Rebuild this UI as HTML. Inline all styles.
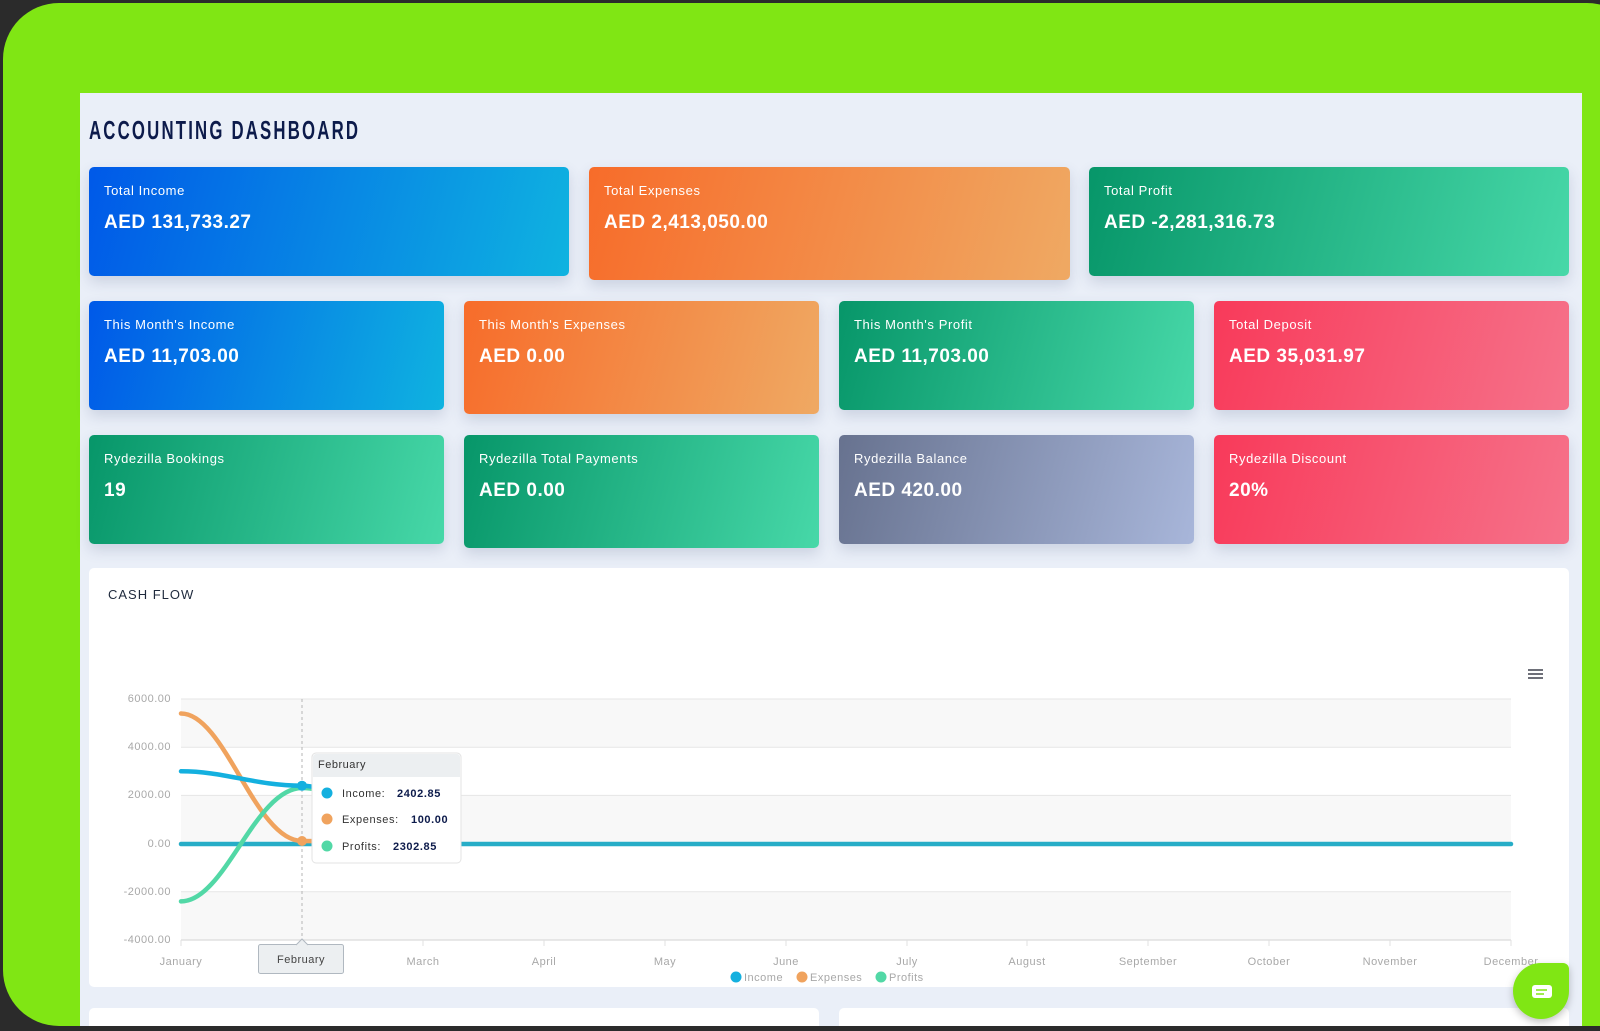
<!DOCTYPE html>
<html style="overflow:hidden"><head><meta charset="utf-8"><style>
*{margin:0;padding:0;box-sizing:border-box}
html,body{width:1600px;height:1031px;overflow:hidden}
body{background:#2b2b2b;font-family:"Liberation Sans",sans-serif}
#w{position:relative;width:1600px;height:1031px;overflow:hidden}
.green{position:absolute;left:3px;top:3px;width:1640px;height:1023px;background:#80e614;border-radius:56px 56px 0 56px}
.content{position:absolute;left:80px;top:93px;width:1502px;height:933px;background:#eaeff8}
.bottom{position:absolute;left:0;top:1026px;width:1600px;height:5px;background:#2b2b2b}
h1{position:absolute;left:89px;top:115px;font-size:26px;font-weight:bold;color:#0d1b4b;letter-spacing:3.4px;transform:scaleX(.645);transform-origin:left top;white-space:nowrap}
.card{position:absolute;border-radius:5px;color:#fff;box-shadow:0 6px 14px rgba(60,80,120,.18)}
.card .l{position:absolute;left:15px;top:16px;font-size:13px;letter-spacing:.6px}
.card .v{position:absolute;left:15px;top:45px;font-size:19px;font-weight:bold;letter-spacing:.5px}
.blue{background:linear-gradient(105deg,#0059e8,#0fb3e0)}
.orange{background:linear-gradient(105deg,#f76c2a,#efa963)}
.teal{background:linear-gradient(105deg,#079669,#47d8a8)}
.red{background:linear-gradient(105deg,#f83a5a,#f6728a)}
.gray{background:linear-gradient(105deg,#67728f,#a8b6da)}
.chart{position:absolute;left:89px;top:568px;width:1480px;height:419px;background:#fff;border-radius:5px}
.wc{position:absolute;top:1008px;height:30px;background:#fff;border-radius:5px}
</style></head><body><div id="w">
<div class="green"></div>
<div class="content"></div>
<h1>ACCOUNTING DASHBOARD</h1>

<div class="card blue" style="left:89px;top:167px;width:480px;height:109px"><div class="l">Total Income</div><div class="v">AED 131,733.27</div></div>
<div class="card orange" style="left:589px;top:167px;width:481px;height:113px"><div class="l">Total Expenses</div><div class="v">AED 2,413,050.00</div></div>
<div class="card teal" style="left:1089px;top:167px;width:480px;height:109px"><div class="l">Total Profit</div><div class="v">AED -2,281,316.73</div></div>

<div class="card blue" style="left:89px;top:301px;width:355px;height:109px"><div class="l">This Month's Income</div><div class="v">AED 11,703.00</div></div>
<div class="card orange" style="left:464px;top:301px;width:355px;height:113px"><div class="l">This Month's Expenses</div><div class="v">AED 0.00</div></div>
<div class="card teal" style="left:839px;top:301px;width:355px;height:109px"><div class="l">This Month's Profit</div><div class="v">AED 11,703.00</div></div>
<div class="card red" style="left:1214px;top:301px;width:355px;height:109px"><div class="l">Total Deposit</div><div class="v">AED 35,031.97</div></div>

<div class="card teal" style="left:89px;top:435px;width:355px;height:109px"><div class="l">Rydezilla Bookings</div><div class="v">19</div></div>
<div class="card teal" style="left:464px;top:435px;width:355px;height:113px"><div class="l">Rydezilla Total Payments</div><div class="v">AED 0.00</div></div>
<div class="card gray" style="left:839px;top:435px;width:355px;height:109px"><div class="l">Rydezilla Balance</div><div class="v">AED 420.00</div></div>
<div class="card red" style="left:1214px;top:435px;width:355px;height:109px"><div class="l">Rydezilla Discount</div><div class="v">20%</div></div>

<div class="chart"></div>
<div class="wc" style="left:89px;width:730px"></div>
<div class="wc" style="left:839px;width:730px"></div>

<svg style="position:absolute;left:0;top:0" width="1600" height="1031" font-family="Liberation Sans, sans-serif">
<text x="108" y="599" font-size="13" fill="#1f2a3d" letter-spacing="1">CASH FLOW</text>
<g stroke="#6e7079" stroke-width="2"><line x1="1528" y1="670" x2="1543" y2="670"/><line x1="1528" y1="674" x2="1543" y2="674"/><line x1="1528" y1="678" x2="1543" y2="678"/></g>
<rect x="181" y="699" width="1330" height="48.2" fill="#f8f8f8"/>
<rect x="181" y="795.4" width="1330" height="48.2" fill="#f8f8f8"/>
<rect x="181" y="891.8" width="1330" height="48.2" fill="#f8f8f8"/>
<g stroke="#e6e6e6" stroke-width="1">
<line x1="181" y1="699" x2="1511" y2="699"/><line x1="181" y1="747.2" x2="1511" y2="747.2"/><line x1="181" y1="795.4" x2="1511" y2="795.4"/><line x1="181" y1="843.6" x2="1511" y2="843.6"/><line x1="181" y1="891.8" x2="1511" y2="891.8"/></g>
<line x1="181" y1="940" x2="1511" y2="940" stroke="#e0e0e0" stroke-width="1.5"/>
<g stroke="#e0e0e0"><line x1="181" y1="940" x2="181" y2="946"/><line x1="423" y1="940" x2="423" y2="946"/><line x1="544" y1="940" x2="544" y2="946"/><line x1="665" y1="940" x2="665" y2="946"/><line x1="786" y1="940" x2="786" y2="946"/><line x1="907" y1="940" x2="907" y2="946"/><line x1="1027" y1="940" x2="1027" y2="946"/><line x1="1148" y1="940" x2="1148" y2="946"/><line x1="1269" y1="940" x2="1269" y2="946"/><line x1="1390" y1="940" x2="1390" y2="946"/><line x1="1511" y1="940" x2="1511" y2="946"/></g>
<g font-size="11" fill="#a8a8a8" text-anchor="end" letter-spacing=".5">
<text x="171" y="702">6000.00</text><text x="171" y="750">4000.00</text><text x="171" y="798">2000.00</text><text x="171" y="847">0.00</text><text x="171" y="895">-2000.00</text><text x="171" y="943">-4000.00</text></g>
<g font-size="11" fill="#a8a8a8" text-anchor="middle" letter-spacing=".5">
<text x="181" y="965">January</text><text x="423" y="965">March</text><text x="544" y="965">April</text><text x="665" y="965">May</text><text x="786" y="965">June</text><text x="907" y="965">July</text><text x="1027" y="965">August</text><text x="1148" y="965">September</text><text x="1269" y="965">October</text><text x="1390" y="965">November</text><text x="1511" y="965">December</text></g>
<line x1="302" y1="699" x2="302" y2="940" stroke="#b6b6b6" stroke-dasharray="3,3"/>
<g fill="none" stroke-width="4.5" stroke-linecap="round">
<path d="M181,844 L1511,844" stroke="#27adc7"/>
<path d="M181,713.5 C225,713.5 255,841 302,841 C350,841 380,844 423,844" stroke="#f0a35e"/>
<path d="M181,901.4 C225,901.4 255,788 302,788 C350,788 380,844 423,844" stroke="#52d8a6"/>
<path d="M181,771.3 C225,771.3 255,785.7 302,785.7 C350,785.7 380,844 423,844" stroke="#14b0df"/>
</g>
<circle cx="302" cy="785.7" r="5" fill="#14b0df"/><circle cx="302" cy="841" r="5" fill="#f0a35e"/>
<rect x="312" y="753" width="149" height="110" rx="4" fill="#fff" stroke="#e3e3e3"/>
<path d="M313,757 a3,3 0 0 1 3,-3 h141 a3,3 0 0 1 3,3 v20 h-147z" fill="#eceff1"/>
<text x="318" y="768" font-size="11" fill="#333" letter-spacing=".5">February</text>
<circle cx="327" cy="793" r="5.5" fill="#14b0df"/><circle cx="327" cy="819" r="5.5" fill="#f0a35e"/><circle cx="327" cy="846" r="5.5" fill="#52d8a6"/>
<g font-size="11" fill="#333" letter-spacing=".6"><text x="342" y="797">Income:</text><text x="342" y="823">Expenses:</text><text x="342" y="850">Profits:</text></g>
<g font-size="11" fill="#0d1b4b" font-weight="bold" letter-spacing=".6"><text x="397" y="797">2402.85</text><text x="411" y="823">100.00</text><text x="393" y="850">2302.85</text></g>
<rect x="258.5" y="944.5" width="85" height="29" rx="2" fill="#eceff1" stroke="#b0b8c0"/>
<path d="M296,945 L302,939 L308,945" fill="#eceff1" stroke="#b0b8c0"/>
<text x="301" y="963" font-size="11" fill="#444" text-anchor="middle" letter-spacing=".5">February</text>
<g font-size="11" fill="#a8a8a8" letter-spacing=".5">
<circle cx="736" cy="977" r="5.5" fill="#14b0df"/><text x="744" y="981">Income</text>
<circle cx="802" cy="977" r="5.5" fill="#f0a35e"/><text x="810" y="981">Expenses</text>
<circle cx="881" cy="977" r="5.5" fill="#52d8a6"/><text x="889" y="981">Profits</text></g>
<path d="M1542,963 h21 a6,6 0 0 1 6,6 v22 a28,28 0 0 1 -28,28 a28,28 0 0 1 -28,-28 a28,28 0 0 1 29,-28z" fill="#80e614" style="filter:drop-shadow(0 3px 4px rgba(0,0,0,.25))"/>
<rect x="1532" y="985" width="20" height="13" rx="3" fill="#fff"/>
<line x1="1536" y1="990" x2="1547" y2="990" stroke="#80e614" stroke-width="1.5"/><line x1="1536" y1="994" x2="1544" y2="994" stroke="#80e614" stroke-width="1.5"/>
</svg>
<div class="bottom"></div>
</div></body></html>
